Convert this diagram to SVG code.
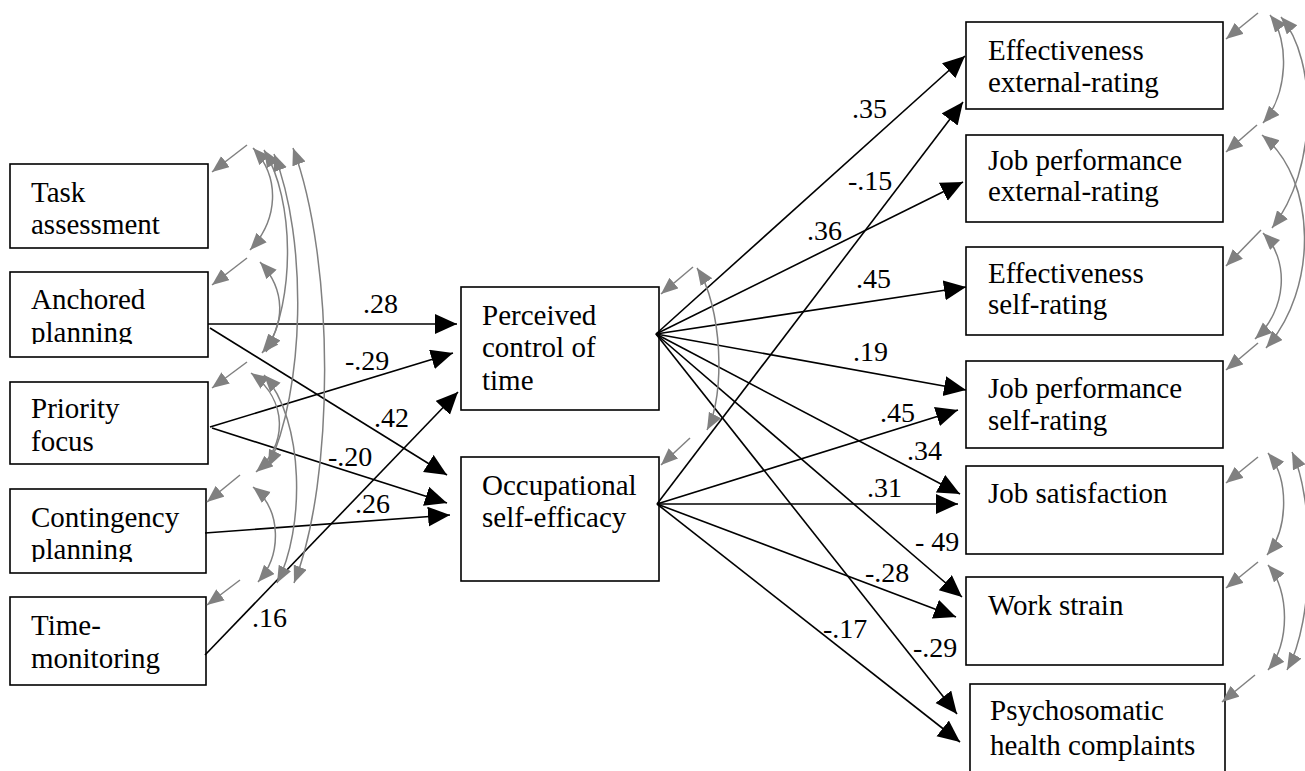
<svg xmlns="http://www.w3.org/2000/svg" width="1305" height="771" viewBox="0 0 1305 771">
  <style>
    .box { fill: #ffffff; stroke: #000000; stroke-width: 1.6; }
    .lbl { font-size: 29px; fill: #000000; }
    .coef { font-size: 28px; fill: #000000; }
    .path { fill: none; stroke: #000000; stroke-width: 1.6; marker-end: url(#blackHead); }
    .cov { fill: none; stroke: #808080; stroke-width: 1.5; marker-start: url(#grayHead); marker-end: url(#grayHead); }
    .stub { fill: none; stroke: #808080; stroke-width: 1.5; marker-end: url(#grayHead); }
  </style>
  <defs>
    <marker id="blackHead" markerUnits="userSpaceOnUse" markerWidth="24" markerHeight="22" refX="22" refY="10" orient="auto">
      <path d="M0,0 L22,10 L0,20 Z" fill="#000000"/>
    </marker>
    <marker id="grayHead" markerUnits="userSpaceOnUse" markerWidth="20" markerHeight="16" refX="17" refY="7" orient="auto-start-reverse">
      <path d="M0,0 L17,7 L0,14 Z" fill="#808080"/>
    </marker>
    <clipPath id="clipAnchored"><rect x="10" y="272" width="198" height="72"/></clipPath>
    <clipPath id="clipContingency"><rect x="10" y="489" width="196" height="73"/></clipPath>
  </defs>

  <rect width="1305" height="771" fill="#ffffff"/>

  <g font-family="'Liberation Serif', 'Times New Roman', Times, 'DejaVu Serif', serif">
  <!-- time management behaviours -->
  <g id="task-assessment">
    <rect class="box" x="10" y="164" width="198" height="84"/>
    <text class="lbl" x="31" y="202">Task</text>
    <text class="lbl" x="31" y="234">assessment</text>
  </g>
  <g id="anchored-planning">
    <rect class="box" x="10" y="272" width="198" height="85"/>
    <g clip-path="url(#clipAnchored)">
      <text class="lbl" x="31" y="309">Anchored</text>
      <text class="lbl" x="31" y="342">planning</text>
    </g>
  </g>
  <g id="priority-focus">
    <rect class="box" x="10" y="382" width="198" height="82"/>
    <text class="lbl" x="31" y="418">Priority</text>
    <text class="lbl" x="31" y="451">focus</text>
  </g>
  <g id="contingency-planning">
    <rect class="box" x="10" y="489" width="196" height="84"/>
    <g clip-path="url(#clipContingency)">
      <text class="lbl" x="31" y="527">Contingency</text>
      <text class="lbl" x="31" y="559">planning</text>
    </g>
  </g>
  <g id="time-monitoring">
    <rect class="box" x="10" y="597" width="196" height="88"/>
    <text class="lbl" x="31" y="635">Time-</text>
    <text class="lbl" x="31" y="668">monitoring</text>
  </g>

  <!-- mediators -->
  <g id="perceived-control">
    <rect class="box" x="461" y="287" width="198" height="123"/>
    <text class="lbl" x="482" y="325">Perceived</text>
    <text class="lbl" x="482" y="357">control of</text>
    <text class="lbl" x="482" y="390">time</text>
  </g>
  <g id="occupational-self-efficacy">
    <rect class="box" x="461" y="457" width="198" height="124"/>
    <text class="lbl" x="482" y="495">Occupational</text>
    <text class="lbl" x="482" y="527">self-efficacy</text>
  </g>

  <!-- outcomes -->
  <g id="effectiveness-external">
    <rect class="box" x="966" y="22" width="257" height="87"/>
    <text class="lbl" x="988" y="60">Effectiveness</text>
    <text class="lbl" x="988" y="92">external-rating</text>
  </g>
  <g id="job-performance-external">
    <rect class="box" x="966" y="135" width="257" height="87"/>
    <text class="lbl" x="988" y="170">Job performance</text>
    <text class="lbl" x="988" y="201">external-rating</text>
  </g>
  <g id="effectiveness-self">
    <rect class="box" x="966" y="247" width="257" height="88"/>
    <text class="lbl" x="988" y="283">Effectiveness</text>
    <text class="lbl" x="988" y="314">self-rating</text>
  </g>
  <g id="job-performance-self">
    <rect class="box" x="966" y="361" width="257" height="87"/>
    <text class="lbl" x="988" y="398">Job performance</text>
    <text class="lbl" x="988" y="430">self-rating</text>
  </g>
  <g id="job-satisfaction">
    <rect class="box" x="966" y="466" width="257" height="88"/>
    <text class="lbl" x="988" y="503">Job satisfaction</text>
  </g>
  <g id="work-strain">
    <rect class="box" x="966" y="577" width="257" height="88"/>
    <text class="lbl" x="988" y="615">Work strain</text>
  </g>
  <g id="psychosomatic">
    <rect class="box" x="970" y="684" width="255" height="100"/>
    <text class="lbl" x="990" y="720">Psychosomatic</text>
    <text class="lbl" x="990" y="755">health complaints</text>
  </g>

  <g id="connectors">
    <!-- regression paths: predictors to mediators -->
    <line class="path" x1="208" y1="324" x2="457" y2="324"/>
    <line class="path" x1="210" y1="328" x2="447" y2="475"/>
    <line class="path" x1="210" y1="427" x2="453" y2="353"/>
    <line class="path" x1="212" y1="428" x2="447" y2="503"/>
    <line class="path" x1="205" y1="533" x2="450" y2="515"/>
    <line class="path" x1="205" y1="655" x2="458" y2="392"/>

    <!-- perceived control of time to outcomes -->
    <line class="path" x1="656" y1="334" x2="965" y2="56"/>
    <line class="path" x1="656" y1="334" x2="963" y2="182"/>
    <line class="path" x1="656" y1="334" x2="966" y2="287"/>
    <line class="path" x1="656" y1="334" x2="966" y2="390"/>
    <line class="path" x1="656" y1="334" x2="960" y2="494"/>
    <line class="path" x1="656" y1="334" x2="962" y2="597"/>
    <line class="path" x1="656" y1="334" x2="957" y2="714"/>

    <!-- occupational self-efficacy to outcomes -->
    <line class="path" x1="657" y1="504" x2="963" y2="102"/>
    <line class="path" x1="657" y1="504" x2="958" y2="410"/>
    <line class="path" x1="657" y1="504" x2="958" y2="504"/>
    <line class="path" x1="657" y1="504" x2="956" y2="617"/>
    <line class="path" x1="657" y1="504" x2="960" y2="742"/>

    <!-- covariances among predictors -->
    <line class="stub" x1="247" y1="145" x2="212" y2="172"/>
    <line class="stub" x1="247" y1="258" x2="212" y2="285"/>
    <line class="stub" x1="247" y1="362" x2="212" y2="388"/>
    <line class="stub" x1="240" y1="475" x2="207" y2="502"/>
    <line class="stub" x1="240" y1="580" x2="207" y2="605"/>
    <path class="cov" d="M253,148 C281,178 278,220 250,250"/>
    <path class="cov" d="M264,150 C295,200 295,300 266,352"/>
    <path class="cov" d="M274,154 C308,240 305,390 268,467"/>
    <path class="cov" d="M293,148 C335,260 335,480 294,583"/>
    <path class="cov" d="M260,262 C286,290 286,325 262,353"/>
    <path class="cov" d="M251,373 C288,400 288,445 256,472"/>
    <path class="cov" d="M264,375 C305,420 305,530 277,583"/>
    <path class="cov" d="M253,487 C282,510 282,555 258,582"/>

    <!-- covariance between mediators -->
    <line class="stub" x1="693" y1="267" x2="661" y2="294"/>
    <line class="stub" x1="690" y1="438" x2="661" y2="465"/>
    <path class="cov" d="M697,268 C722,305 726,395 707,430"/>

    <!-- covariances among outcomes -->
    <line class="stub" x1="1258" y1="13" x2="1226" y2="39"/>
    <line class="stub" x1="1257" y1="125" x2="1226" y2="152"/>
    <line class="stub" x1="1261" y1="230" x2="1226" y2="266"/>
    <line class="stub" x1="1258" y1="343" x2="1226" y2="370"/>
    <line class="stub" x1="1258" y1="457" x2="1226" y2="483"/>
    <line class="stub" x1="1258" y1="562" x2="1226" y2="588"/>
    <line class="stub" x1="1255" y1="675" x2="1222" y2="702"/>
    <path class="cov" d="M1270,15 C1290,40 1288,95 1263,123"/>
    <path class="cov" d="M1281,17 C1318,60 1318,170 1272,228"/>
    <path class="cov" d="M1262,135 C1318,180 1318,290 1266,348"/>
    <path class="cov" d="M1263,233 C1290,260 1287,310 1255,339"/>
    <path class="cov" d="M1268,453 C1290,480 1288,530 1267,555"/>
    <path class="cov" d="M1292,452 C1315,500 1315,620 1287,670"/>
    <path class="cov" d="M1268,565 C1290,590 1290,645 1268,670"/>
  </g>

  <g id="coefficients">
    <text class="coef" x="363" y="313">.28</text>
    <text class="coef" x="345" y="370">-.29</text>
    <text class="coef" x="374" y="427">.42</text>
    <text class="coef" x="328" y="466">-.20</text>
    <text class="coef" x="355" y="513">.26</text>
    <text class="coef" x="252" y="627">.16</text>
    <text class="coef" x="852" y="118">.35</text>
    <text class="coef" x="848" y="190">-.15</text>
    <text class="coef" x="807" y="240">.36</text>
    <text class="coef" x="856" y="288">.45</text>
    <text class="coef" x="853" y="361">.19</text>
    <text class="coef" x="880" y="422">.45</text>
    <text class="coef" x="907" y="460">.34</text>
    <text class="coef" x="867" y="497">.31</text>
    <text class="coef" x="915" y="551">- 49</text>
    <text class="coef" x="865" y="582">-.28</text>
    <text class="coef" x="913" y="657">-.29</text>
    <text class="coef" x="823" y="638">-.17</text>
  </g>
  </g>
</svg>
